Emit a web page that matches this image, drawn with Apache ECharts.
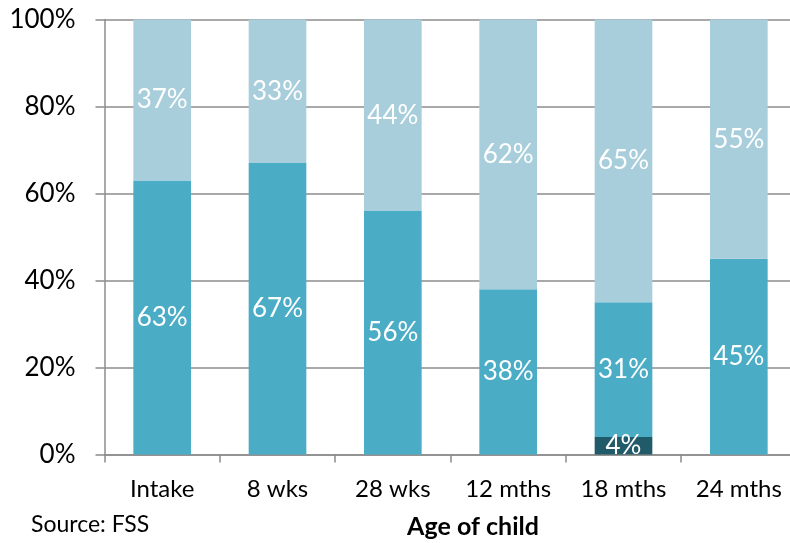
<!DOCTYPE html>
<html>
<head>
<meta charset="utf-8">
<script src="https://cdn.jsdelivr.net/npm/echarts@6/dist/echarts.min.js"></script>
<style>
  html, body { margin: 0; padding: 0; background: #fff; }
  #chart { width: 790px; height: 543px; }
</style>
</head>
<body>
<div id="chart"></div>
<script>
// Age groups along the x axis
const categories = ['Intake', '8 wks', '28 wks', '12 mths', '18 mths', '24 mths'];
// Shares (%) per stack segment, bottom to top
const darkShare = [null, null, null, null, 4, null];
const midShare = [63, 67, 56, 38, 31, 45];
const lightShare = [37, 33, 44, 62, 65, 55];
const yTicks = [0, 20, 40, 60, 80, 100];

const FONT = 'Lato, "Open Sans", sans-serif';

const labelStyle = {
  show: true,
  position: 'inside',
  color: '#ffffff',
  fontFamily: FONT,
  fontSize: 26,
  formatter: p => p.value + '%'
};

const chart = echarts.init(document.getElementById('chart'));
chart.setOption({
  animation: false,
  // the plot runs slightly past the right edge of the canvas
  grid: { left: 104.5, width: 692, top: 19.5, bottom: 88.5, containLabel: false, outerBoundsMode: 'none' },
  xAxis: {
    type: 'category',
    data: categories,
    axisLine: { lineStyle: { color: '#8c8c8c', width: 1.5 } },
    axisTick: { show: true, length: 8, lineStyle: { color: '#8c8c8c', width: 1.5 } },
    axisLabel: { color: '#000', fontFamily: FONT, fontSize: 24, margin: 23 }
  },
  yAxis: {
    type: 'value',
    min: yTicks[0],
    max: yTicks[yTicks.length - 1],
    interval: 20,
    axisLine: { show: true, lineStyle: { color: '#8c8c8c', width: 1.5 } },
    axisTick: { show: true, length: 9, lineStyle: { color: '#8c8c8c', width: 1.5 } },
    splitLine: { show: true, lineStyle: { color: '#8c8c8c', width: 1.5 } },
    axisLabel: { color: '#000', fontFamily: FONT, fontSize: 26, margin: 29, formatter: v => v + '%' }
  },
  series: [
    { type: 'bar', stack: 'all', barWidth: '50%', data: darkShare,
      itemStyle: { color: '#215a69' }, label: labelStyle },
    { type: 'bar', stack: 'all', barWidth: '50%', data: midShare,
      itemStyle: { color: '#4bacc6' }, label: labelStyle },
    { type: 'bar', stack: 'all', barWidth: '50%', data: lightShare,
      itemStyle: { color: '#a8cedc' }, label: labelStyle }
  ],
  graphic: [
    { type: 'text', x: 31, y: 525,
      style: { text: 'Source: FSS', fill: '#000', font: '23px ' + FONT, verticalAlign: 'middle' } },
    { type: 'text', x: 473, y: 527,
      style: { text: 'Age of child', fill: '#000', font: 'bold 25px ' + FONT, align: 'center', verticalAlign: 'middle' } }
  ]
});
</script>
</body>
</html>
